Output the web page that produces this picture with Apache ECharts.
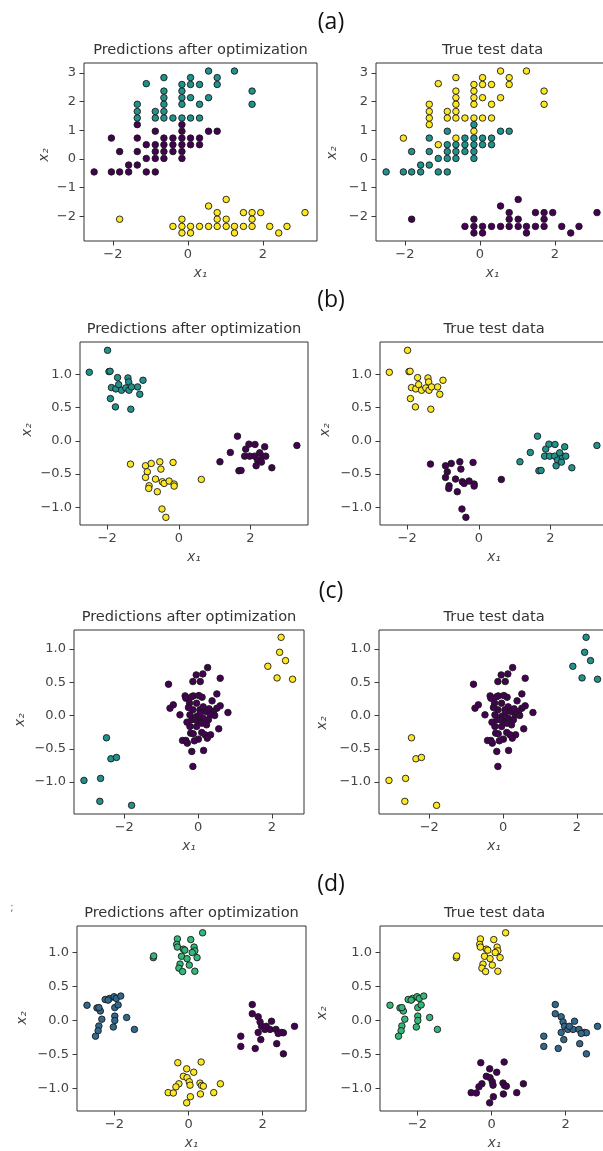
<!DOCTYPE html>
<html><head><meta charset="utf-8">
<script src="https://cdn.jsdelivr.net/npm/echarts@6/dist/echarts.min.js"></script>
<style>html,body{margin:0;padding:0;background:#fff}#c{width:603px;height:1151px}</style>
</head><body><div id="c"></div>
<script>
// ---------- palettes ----------
const viridis3 = ['#440154', '#21918c', '#fde725'];
const viridis4 = ['#440154', '#31688e', '#35b779', '#fde725'];

// ---------- panel (a) ----------
const aX = [-1.11,-0.64,-0.64,-0.64,-0.64,-0.64,-0.64,-1.35,-1.35,-1.35,-0.87,-0.87,-0.4,-0.16,-0.16,-0.16,-0.16,-0.16,0.07,0.07,0.07,0.07,0.31,0.31,0.31,0.55,0.55,0.78,0.78,1.24,1.71,1.71,
 -2.5,-2.04,-2.04,-1.82,-1.82,-1.58,-1.58,-1.35,-1.35,-1.35,-1.35,-1.11,-1.11,-1.11,-0.87,-0.87,-0.87,-0.87,-0.87,-0.64,-0.64,-0.64,-0.64,-0.4,-0.4,-0.4,-0.16,-0.16,-0.16,-0.16,-0.16,-0.16,0.07,0.07,0.31,0.31,0.55,0.78,
 -1.82,-0.4,-0.16,-0.16,-0.16,0.07,0.07,0.31,0.55,0.55,0.78,0.78,0.78,1.02,1.02,1.02,1.24,1.24,1.48,1.48,1.71,1.71,1.71,1.94,2.18,2.42,2.64,3.12];
const aY = [2.63,2.84,2.37,2.14,1.91,1.66,1.43,1.91,1.66,1.43,1.66,1.43,1.43,2.6,2.37,2.14,1.91,1.43,2.84,2.6,2.14,1.43,2.6,1.91,1.43,3.07,2.14,2.84,2.6,3.07,2.37,1.91,
 -0.45,0.73,-0.45,0.26,-0.45,-0.21,-0.45,1.2,0.73,0.26,-0.21,0.5,0.02,-0.45,0.97,0.5,0.26,0.02,-0.45,0.73,0.5,0.26,0.02,0.73,0.5,0.26,1.2,0.97,0.73,0.5,0.26,0.02,0.73,0.5,0.73,0.5,0.97,0.97,
 -2.1,-2.35,-2.1,-2.35,-2.58,-2.35,-2.58,-2.35,-1.64,-2.35,-1.87,-2.1,-2.35,-1.41,-2.1,-2.35,-2.35,-2.58,-1.87,-2.35,-1.87,-2.1,-2.35,-1.87,-2.35,-2.58,-2.35,-1.87];
const aPred = [1,1,1,1,1,1,1,1,1,1,1,1,1,1,1,1,1,1,1,1,1,1,1,1,1,1,1,1,1,1,1,1,
 0,0,0,0,0,0,0,0,0,0,0,0,0,0,0,0,0,0,0,0,0,0,0,0,0,0,0,0,0,0,0,0,0,0,0,0,0,0,
 2,2,2,2,2,2,2,2,2,2,2,2,2,2,2,2,2,2,2,2,2,2,2,2,2,2,2,2];
const aTrue = [2,2,2,2,2,2,2,2,2,2,2,2,2,2,2,2,2,2,2,2,2,2,2,2,2,2,2,2,2,2,2,2,
 1,2,1,1,1,1,1,2,1,1,1,2,1,1,1,1,1,1,1,2,1,1,1,1,1,1,1,2,1,1,1,1,1,1,1,1,1,1,
 0,0,0,0,0,0,0,0,0,0,0,0,0,0,0,0,0,0,0,0,0,0,0,0,0,0,0,0];
const aXTicks = [-2, 0, 2];
const aYTicks = [-2, -1, 0, 1, 2, 3];

// ---------- panel (b) ----------
const bX = [-2.5,-1.99,-1.95,-1.92,-1.71,-1.88,-1.76,-1.68,-1.6,-1.91,-1.77,-1.42,-1.4,-1.48,-1.39,-1.32,-1.15,-1.0,-1.09,-1.34,
 -1.35,-0.93,-0.77,-0.88,-0.93,-0.83,-0.84,-0.65,-0.6,-0.53,-0.5,-0.46,-0.41,-0.27,-0.16,-0.13,-0.13,-0.47,-0.36,0.63,
 1.15,1.44,1.64,1.68,1.74,1.84,1.87,1.96,1.98,2.13,2.12,2.2,2.16,2.31,2.33,2.4,2.43,2.6,2.26,3.3];
const bY = [1.03,1.36,1.04,1.045,0.95,0.8,0.78,0.845,0.76,0.635,0.51,0.945,0.885,0.795,0.76,0.81,0.81,0.91,0.7,0.475,
 -0.35,-0.375,-0.34,-0.465,-0.55,-0.675,-0.715,-0.575,-0.765,-0.315,-0.425,-0.615,-0.64,-0.605,-0.325,-0.65,-0.68,-1.025,-1.15,-0.58,
 -0.315,-0.175,0.07,-0.45,-0.445,-0.23,-0.125,-0.05,-0.23,-0.055,-0.23,-0.29,-0.375,-0.32,-0.23,-0.09,-0.23,-0.405,-0.18,-0.07];
const bPred = [1,1,1,1,1,1,1,1,1,1,1,1,1,1,1,1,1,1,1,1,
 2,2,2,2,2,2,2,2,2,2,2,2,2,2,2,2,2,2,2,2,
 0,0,0,0,0,0,0,0,0,0,0,0,0,0,0,0,0,0,0,0];
const bTrue = [2,2,2,2,2,2,2,2,2,2,2,2,2,2,2,2,2,2,2,2,
 0,0,0,0,0,0,0,0,0,0,0,0,0,0,0,0,0,0,0,0,
 1,1,1,1,1,1,1,1,1,1,1,1,1,1,1,1,1,1,1,1];
const bXTicks = [-2, 0, 2];
const bYTicks = [-1.0, -0.5, 0.0, 0.5, 1.0];

// ---------- panel (c) ----------
const cX = [-2.48,-2.36,-2.21,-3.09,-2.64,-2.66,-1.8,
 2.25,2.21,2.37,1.89,2.14,2.56,
 -0.8,-0.05,0.13,0.26,0.6,-0.14,0.06,-0.35,-0.33,-0.13,0.11,0.51,0.38,-0.67,-0.76,-0.49,-0.23,-0.04,-0.14,0.05,0.22,0.6,0.51,0.42,0.33,0.81,-0.22,-0.04,0.14,0.28,-0.17,0.01,0.1,-0.22,-0.04,0.23,0.56,-0.2,0.1,0.19,0.34,-0.13,0.01,0.25,-0.42,-0.29,-0.33,-0.17,0.15,-0.14,
 -0.18,0.02,-0.26,0.14,-0.08,0.06,0.45,-0.1,0.3,-0.3];
const cY = [-0.335,-0.65,-0.63,-0.975,-0.945,-1.29,-1.35,
 1.175,0.95,0.825,0.74,0.565,0.545,
 0.47,0.61,0.625,0.72,0.56,0.51,0.51,0.295,0.26,0.295,0.275,0.325,0.22,0.16,0.11,0.01,0.185,0.185,0.085,0.085,0.06,0.145,0.11,0.06,0.01,0.045,0.01,-0.015,-0.04,-0.065,-0.065,-0.09,-0.115,-0.165,-0.165,-0.14,-0.2,-0.265,-0.255,-0.29,-0.29,-0.275,-0.355,-0.34,-0.375,-0.415,-0.375,-0.54,-0.525,-0.765,
 0.28,0.3,0.12,0.13,-0.06,0.04,0.0,-0.38,0.1,-0.1];
const cPred = [1,1,1,1,1,1,1, 2,2,2,2,2,2,
 0,0,0,0,0,0,0,0,0,0,0,0,0,0,0,0,0,0,0,0,0,0,0,0,0,0,0,0,0,0,0,0,0,0,0,0,0,0,0,0,0,0,0,0,0,0,0,0,0,0,
 0,0,0,0,0,0,0,0,0,0];
const cTrue = [2,2,2,2,2,2,2, 1,1,1,1,1,1,
 0,0,0,0,0,0,0,0,0,0,0,0,0,0,0,0,0,0,0,0,0,0,0,0,0,0,0,0,0,0,0,0,0,0,0,0,0,0,0,0,0,0,0,0,0,0,0,0,0,0,
 0,0,0,0,0,0,0,0,0,0];
const cXTicks = [-2, 0, 2];
const cYTicks = [-1.0, -0.5, 0.0, 0.5, 1.0];

// ---------- panel (d) ----------
const dX = [1.72,1.72,1.88,1.93,1.97,1.88,2.06,2.24,2.2,2.36,2.51,2.56,2.86,1.41,1.41,1.8,1.95,2.38,2.56,2.42,2.1,
 -2.74,-2.47,-2.38,-2.25,-2.13,-2.01,-1.95,-1.83,-2.42,-1.99,-1.9,-2.34,-1.99,-1.99,-1.67,-2.42,-2.44,-2.51,-2.03,-1.46,-2.17,
 -0.3,-0.32,-0.3,-0.14,-0.1,0.06,0.15,0.17,0.1,0.38,0.23,-0.19,-0.04,-0.95,-0.94,-0.23,-0.26,-0.16,0.02,0.17,
 -0.29,0.34,-0.05,0.14,-0.14,-0.04,0.02,-0.26,0.31,0.35,0.4,0.86,-0.34,0.04,-0.55,-0.41,0.68,0.32,0.05,-0.05];
const dY = [0.235,0.1,0.055,-0.02,-0.085,-0.175,-0.13,-0.01,-0.13,-0.13,-0.175,-0.18,-0.085,-0.23,-0.38,-0.41,-0.28,-0.34,-0.49,-0.19,-0.085,
 0.225,0.185,0.14,0.31,0.325,0.35,0.325,0.36,0.19,0.19,0.23,0.02,0.065,0.0,0.045,-0.08,-0.15,-0.23,-0.095,-0.13,0.3,
 1.2,1.12,1.08,1.05,1.035,1.19,1.08,1.025,1.0,1.29,0.925,0.945,0.91,0.925,0.95,0.83,0.77,0.72,0.815,0.725,
 -0.62,-0.61,-0.71,-0.76,-0.82,-0.84,-0.9,-0.93,-0.92,-0.955,-0.965,-0.93,-0.975,-0.95,-1.06,-1.065,-1.06,-1.08,-1.12,-1.21];
const dPred = [0,0,0,0,0,0,0,0,0,0,0,0,0,0,0,0,0,0,0,0,0,
 1,1,1,1,1,1,1,1,1,1,1,1,1,1,1,1,1,1,1,1,1,
 2,2,2,2,2,2,2,2,2,2,2,2,2,2,2,2,2,2,2,2,
 3,3,3,3,3,3,3,3,3,3,3,3,3,3,3,3,3,3,3,3];
const dTrue = [1,1,1,1,1,1,1,1,1,1,1,1,1,1,1,1,1,1,1,1,1,
 2,2,2,2,2,2,2,2,2,2,2,2,2,2,2,2,2,2,2,2,2,
 3,3,3,3,3,3,3,3,3,3,3,3,3,3,3,3,3,3,3,3,
 0,0,0,0,0,0,0,0,0,0,0,0,0,0,0,0,0,0,0,0];
const dXTicks = [-2, 0, 2];
const dYTicks = [-1.0, -0.5, 0.0, 0.5, 1.0];

const panelNames = ['(a)', '(b)', '(c)', '(d)'];
const titleLeft = 'Predictions after optimization';
const titleRight = 'True test data';

// ---------- layout ----------
const panels = [
  {X:aX, Y:aY, pred:aPred, truth:aTrue, pal:viridis3, xr:[-2.77,3.44], yr:[-2.86,3.35], xt:aXTicks, yt:aYTicks, dec:0,
   top:63, h:178, w:233, lefts:[84,376], tag:[331,22], yl:[[44,155],[332,153]]},
  {X:bX, Y:bY, pred:bPred, truth:bTrue, pal:viridis3, xr:[-2.76,3.61], yr:[-1.265,1.485], xt:bXTicks, yt:bYTicks, dec:1,
   top:342, h:183, w:228, lefts:[80,380], tag:[331,300], yl:[[27,430],[325,430]]},
  {X:cX, Y:cY, pred:cPred, truth:cTrue, pal:viridis3, xr:[-3.36,2.87], yr:[-1.48,1.285], xt:cXTicks, yt:cYTicks, dec:1,
   top:630, h:184, w:230, lefts:[74,379], tag:[331,591], yl:[[20,720],[322,723]]},
  {X:dX, Y:dY, pred:dPred, truth:dTrue, pal:viridis4, xr:[-3.01,3.17], yr:[-1.33,1.39], xt:dXTicks, yt:dYTicks, dec:1,
   top:926, h:185, w:229, lefts:[77,380], tag:[331,884], yl:[[22,1018],[322,1013]]}
];

const fmt = dec => v => (dec ? Number(v).toFixed(1) : String(Math.round(v))).replace('-', '\u2212');
const grid = [], xAxis = [], yAxis = [], series = [], graphic = [];
const tickColor = '#3a3a3a', labColor = '#444';

panels.forEach((p, pi) => {
  graphic.push({type:'text', x:p.tag[0], y:p.tag[1], silent:true,
    style:{text:panelNames[pi], font:'23px "Open Sans"', fill:'#111', align:'center', verticalAlign:'middle'}});
  [0,1].forEach(side => {
    const gi = pi*2 + side;
    const left = p.lefts[side];
    grid.push({left:left, top:p.top, width:p.w, height:p.h, show:true, borderColor:'#333', borderWidth:1,
      backgroundColor:'#fff', containLabel:false, outerBoundsMode:'none'});
    xAxis.push({gridIndex:gi, type:'value', min:p.xr[0], max:p.xr[1], position:'bottom',
      axisLine:{show:false, onZero:false}, splitLine:{show:false},
      axisTick:{show:true, inside:false, length:4.5, lineStyle:{color:tickColor, width:1}, customValues:p.xt},
      axisLabel:{customValues:p.xt, formatter:fmt(0), fontSize:13, color:labColor, fontFamily:'DejaVu Sans', margin:7}});
    yAxis.push({gridIndex:gi, type:'value', min:p.yr[0], max:p.yr[1], position:'left',
      axisLine:{show:false, onZero:false}, splitLine:{show:false},
      axisTick:{show:true, inside:false, length:4.5, lineStyle:{color:tickColor, width:1}, customValues:p.yt},
      axisLabel:{customValues:p.yt, formatter:fmt(p.dec), fontSize:13, color:labColor, fontFamily:'DejaVu Sans', margin:8}});
    const labels = side === 0 ? p.pred : p.truth;
    const pal = p.pal;
    series.push({type:'scatter', xAxisIndex:gi, yAxisIndex:gi, silent:true, animation:false,
      symbol:'circle', symbolSize:6.5,
      data:p.X.map((x, i) => [x, p.Y[i], labels[i]]),
      itemStyle:{color: q => pal[q.data[2]], borderColor:'#1a1a1a', borderWidth:0.9, opacity:1}});
    const cx = left + p.w/2;
    graphic.push({type:'text', x:cx, y:p.top - 13, silent:true,
      style:{text: side === 0 ? titleLeft : titleRight, font:'14.6px "DejaVu Sans"', fill:'#333', align:'center', verticalAlign:'middle'}});
    graphic.push({type:'text', x:cx, y:p.top + p.h + 32, silent:true,
      style:{text:'x\u2081', font:'italic 13.5px "DejaVu Sans"', fill:labColor, align:'center', verticalAlign:'middle'}});
    graphic.push({type:'text', x:p.yl[side][0], y:p.yl[side][1], rotation:Math.PI/2, silent:true,
      style:{text:'x\u2082', font:'italic 13.5px "DejaVu Sans"', fill:labColor, align:'center', verticalAlign:'middle'}});
  });
});
graphic.push({type:'text', x:12, y:908, silent:true, style:{text:';', font:'10px "DejaVu Sans"', fill:'#666', align:'center', verticalAlign:'middle'}});

const chart = echarts.init(document.getElementById('c'), null, {renderer:'canvas'});
chart.setOption({backgroundColor:'#fff', animation:false, grid, xAxis, yAxis, series, graphic});
</script></body></html>
